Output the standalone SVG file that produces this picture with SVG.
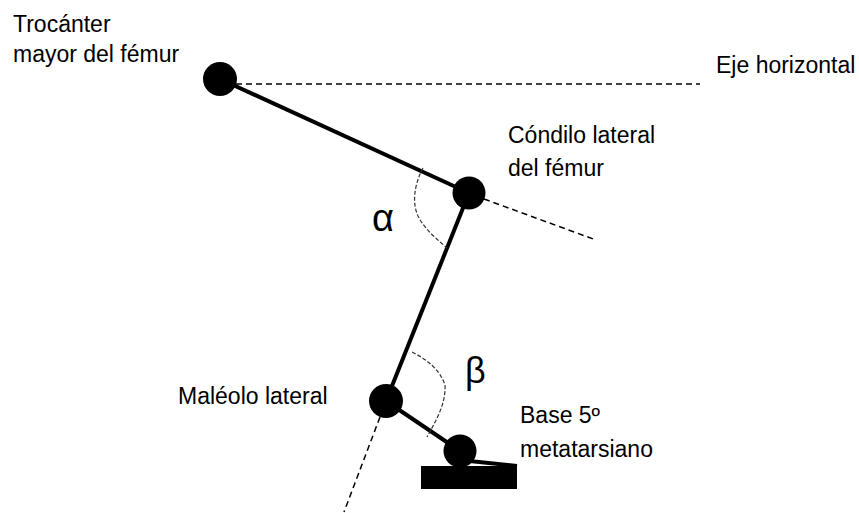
<svg xmlns="http://www.w3.org/2000/svg" width="859" height="513" viewBox="0 0 859 513">
<style>
.lbl{font-family:"Liberation Sans",Arial,sans-serif;font-size:23px;fill:#000}
.greek{font-family:"Liberation Sans",Arial,sans-serif;fill:#000}
.seg{stroke:#000;stroke-width:4;fill:none}
.ref{stroke:#000;stroke-width:1.5;stroke-dasharray:6 4;fill:none}
.arc{stroke:#333;stroke-width:1.2;stroke-dasharray:4 2;fill:none}
.joint{fill:#000}
</style>
<rect width="859" height="513" fill="#fff"/>
<g id="connectors">
<line class="ref" x1="236" y1="84" x2="700" y2="84"/>
<line class="ref" x1="484" y1="199" x2="596" y2="240"/>
<line class="ref" x1="380" y1="417" x2="344" y2="512"/>
<line class="seg" x1="220" y1="79" x2="469" y2="193"/>
<line class="seg" x1="469" y1="193" x2="386" y2="401"/>
<line class="seg" x1="386" y1="401" x2="460" y2="451"/>
<line class="seg" x1="460" y1="460" x2="517" y2="466"/>
<path class="arc" d="M423,168 C414,185 412,203 418,216 C425,230 438,240 447,248"/>
<path class="arc" d="M412,352 C428,360 440,370 445,385 C446,405 435,422 427,437"/>
</g>
<g id="hip"><circle class="joint" cx="220" cy="79" r="17"/></g>
<g id="knee"><circle class="joint" cx="469" cy="193" r="16.5"/></g>
<g id="ankle"><circle class="joint" cx="386" cy="401" r="17"/></g>
<g id="base5"><circle class="joint" cx="460" cy="451" r="16.5"/></g>
<g id="foot"><rect x="421" y="466" width="96" height="23" fill="#000"/></g>
<g id="labels">
<text class="lbl" x="13" y="32">Trocánter</text>
<text class="lbl" x="13" y="62">mayor del fémur</text>
<text class="lbl" x="716" y="73">Eje horizontal</text>
<text class="lbl" x="508" y="143">Cóndilo lateral</text>
<text class="lbl" x="508" y="176">del fémur</text>
<text class="lbl" x="178" y="404">Maléolo lateral</text>
<text class="lbl" x="520" y="423">Base 5º</text>
<text class="lbl" x="520" y="457">metatarsiano</text>
<text class="greek" x="372" y="231" font-size="38">α</text>
<text class="greek" x="465" y="383" font-size="36">β</text>
</g>
</svg>
